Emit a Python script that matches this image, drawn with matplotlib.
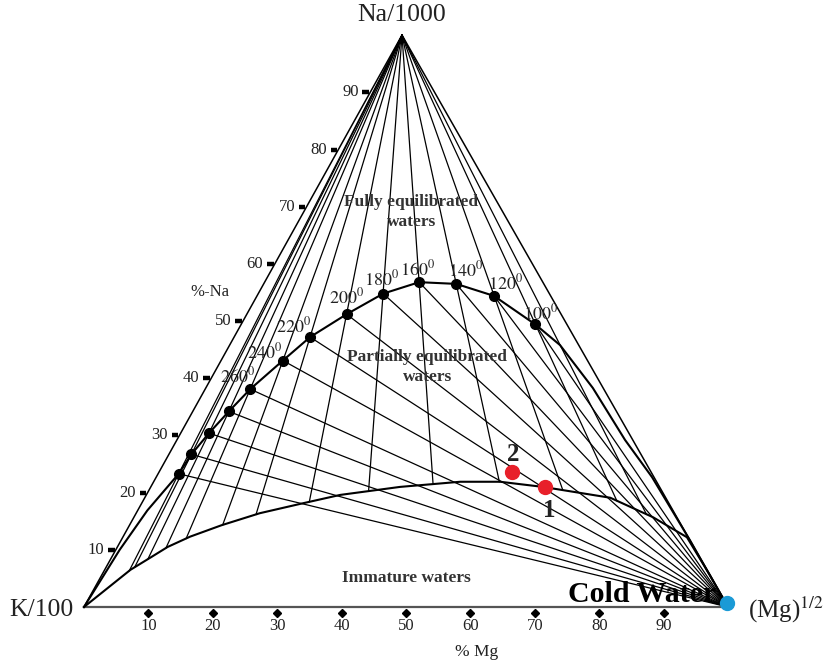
import matplotlib.pyplot as plt
import numpy as np

plt.rcParams['font.family'] = 'Liberation Serif'
plt.rcParams['mathtext.fontset'] = 'stix'

# full equilibrium points, % of Na/1000 and % of Mg^1/2 in the triangle
temps = [100, 120, 140, 160, 180, 200, 220, 240, 260, 280, 300, 320, 340]
eq_na = [49.4, 54.4, 56.5, 56.8, 54.8, 51.2, 47.2, 43.1, 38.1, 34.2, 30.4, 26.7, 23.3]
eq_mg = [45.7, 36.8, 29.9, 24.0, 19.4, 15.5, 11.8, 9.6, 7.0, 5.6, 4.4, 3.5, 3.2]
labelled = [100, 120, 140, 160, 180, 200, 220, 240, 260]

# the same curve below 100 and above 340
lo_na = [45.8, 38.3, 29.2, 22.7, 11.7, 0.0]
lo_mg = [51.3, 60.1, 69.6, 77.0, 88.3, 100.0]
hi_na = [16.9, 10.0, 0.0]
hi_mg = [1.5, 0.6, 0.0]

# extra isotherms from the Na corner below 100
extra_na = [45.8]
extra_mg = [51.3]

# immature waters line (K corner to Mg corner)
lc_na = [0, 6.5, 8.8, 10.5, 12.3, 14.3, 16.4, 18.1, 19.6, 21.0, 21.9, 21.9, 21.0, 19.1, 15.7, 12.2, 5.6, 0]
lc_mg = [0, 4.0, 6.2, 7.8, 10.4, 14.3, 19.2, 24.9, 30.1, 38.7, 47.6, 53.8, 60.9, 72.3, 80.6, 87.6, 94.4, 100]

# samples
samp_na = [21.0, 23.6]
samp_mg = [61.2, 54.8]
samp_lab = ['1', '2']
cold_na = [0.7]
cold_mg = [99.5]

ticks = [10, 20, 30, 40, 50, 60, 70, 80, 90]

NA_X, NA_Y = 0.4938, 0.888
INK = '#222222'


def tern(na, mg):
    na = np.asarray(na, dtype=float) / 100
    mg = np.asarray(mg, dtype=float) / 100
    return mg + na * NA_X, na * NA_Y


fig = plt.figure(figsize=(8.25, 6.66), dpi=100)
ax = fig.add_axes([0, 0, 1, 1])
ax.set_xlim(-84 / 644, 741 / 644)
ax.set_ylim(-59 / 644, 607 / 644)
ax.axis('off')

# triangle
tx, ty = tern([0, 0, 100, 0], [0, 100, 0, 0])
ax.plot(tx, ty, color='k', lw=1.1, zorder=3)
ax.plot(tx[:2], ty[:2], color='#555555', lw=1.6, zorder=3)

eq_na = np.array(eq_na)
eq_mg = np.array(eq_mg)
lc_na = np.array(lc_na)
lc_mg = np.array(lc_mg)
lc_k = 100 - lc_na - lc_mg
u_curve = lc_mg / np.maximum(lc_mg + lc_k, 1e-9)
u_curve[-1] = 1.0


def apex_line(na, mg):
    k = 100 - na - mg
    u = mg / (mg + k)
    na_end = np.interp(u, u_curve, lc_na)
    mg_end = np.interp(u, u_curve, lc_mg)
    x, y = tern([100, na_end], [0, mg_end])
    ax.plot(x, y, color='k', lw=0.9, zorder=2)


# K/Mg isotherms from the Na corner, K/Na isotherms from the Mg corner
for na, mg in zip(eq_na, eq_mg):
    apex_line(na, mg)
    x, y = tern([na, 0], [mg, 100])
    ax.plot(x, y, color='k', lw=0.9, zorder=2)
for na, mg in zip(extra_na, extra_mg):
    apex_line(na, mg)

# full equilibrium curve
cx, cy = tern(list(lo_na[::-1]) + list(eq_na) + hi_na,
              list(lo_mg[::-1]) + list(eq_mg) + hi_mg)
ax.plot(cx, cy, color='k', lw=1.5, zorder=3)
ex, ey = tern(eq_na, eq_mg)
ax.plot(ex, ey, 'o', color='k', ms=7, zorder=4)

# immature line
lx, ly = tern(lc_na, lc_mg)
ax.plot(lx, ly, color='k', lw=1.5, zorder=3)

# temperature labels
offsets = {100: (4, 8), 120: (8, 9), 140: (7, 10), 160: (-1, 9), 180: (-1, 10),
           200: (0, 12), 220: (-12, 8), 240: (-13, 6), 260: (-9, 9)}
for t, x, y in zip(temps, ex, ey):
    if t in labelled:
        ax.annotate(r'$%d^{0}$' % t, (x, y), xytext=offsets[t], textcoords='offset points',
                    ha='center', va='center', fontsize=13, color=INK, zorder=5)

# Na ticks on the left side
for v in ticks:
    x, y = tern(v, 0)
    ax.plot([x - 0.012, x - 0.002], [y, y], color='k', lw=3.2, solid_capstyle='butt', zorder=3)
    ax.text(x - 0.018, y, str(v), ha='right', va='center', fontsize=12, color=INK)

# Mg ticks along the base
for v in ticks:
    x, y = tern(0, v)
    ax.plot(x, y - 0.009, marker='D', ms=4.5, color='k', zorder=3)
    ax.text(x, y - 0.03, str(v), ha='center', va='center', fontsize=12, color=INK)

# corner and axis labels
ax.text(NA_X, 0.919, 'Na/1000', ha='center', va='center', fontsize=18.5, color=INK)
ax.text(-0.016, -0.004, 'K/100', ha='right', va='center', fontsize=18.5, color=INK)
ax.text(1.031, -0.004, r'(Mg)$^{1/2}$', ha='left', va='center', fontsize=18, color=INK)
ax.text(0.609, -0.07, '% Mg', ha='center', va='center', fontsize=12.5, color=INK)
ax.text(0.196, 0.489, '%-Na', ha='center', va='center', fontsize=12, color=INK)

# field names
bold = dict(fontsize=12.5, fontweight='bold', color='#333333', ha='center', va='center', zorder=5)
ax.text(0.508, 0.629, 'Fully equilibrated', **bold)
ax.text(0.508, 0.598, 'waters', **bold)
ax.text(0.533, 0.388, 'Partially equilibrated', **bold)
ax.text(0.533, 0.357, 'waters', **bold)
ax.text(0.500, 0.045, 'Immature waters', **bold)

# samples
sx, sy = tern(samp_na, samp_mg)
ax.plot(sx, sy, 'o', color='#e8202a', ms=10, zorder=6)
ax.text(sx[0] + 0.006, sy[0] - 0.037, samp_lab[0], fontsize=18, fontweight='bold',
        ha='center', va='center', color=INK, zorder=6)
ax.text(sx[1] + 0.002, sy[1] + 0.027, samp_lab[1], fontsize=18, fontweight='bold',
        ha='center', va='center', color=INK, zorder=6)

ax.text(0.866, 0.02, 'Cold Water', fontsize=21.5, fontweight='bold', ha='center',
        va='center', color='k', zorder=6)
bx, by = tern(cold_na, cold_mg)
ax.plot(bx, by, 'o', color='#1a9ad6', ms=10, zorder=7)

fig.savefig('out.png', dpi=100)
